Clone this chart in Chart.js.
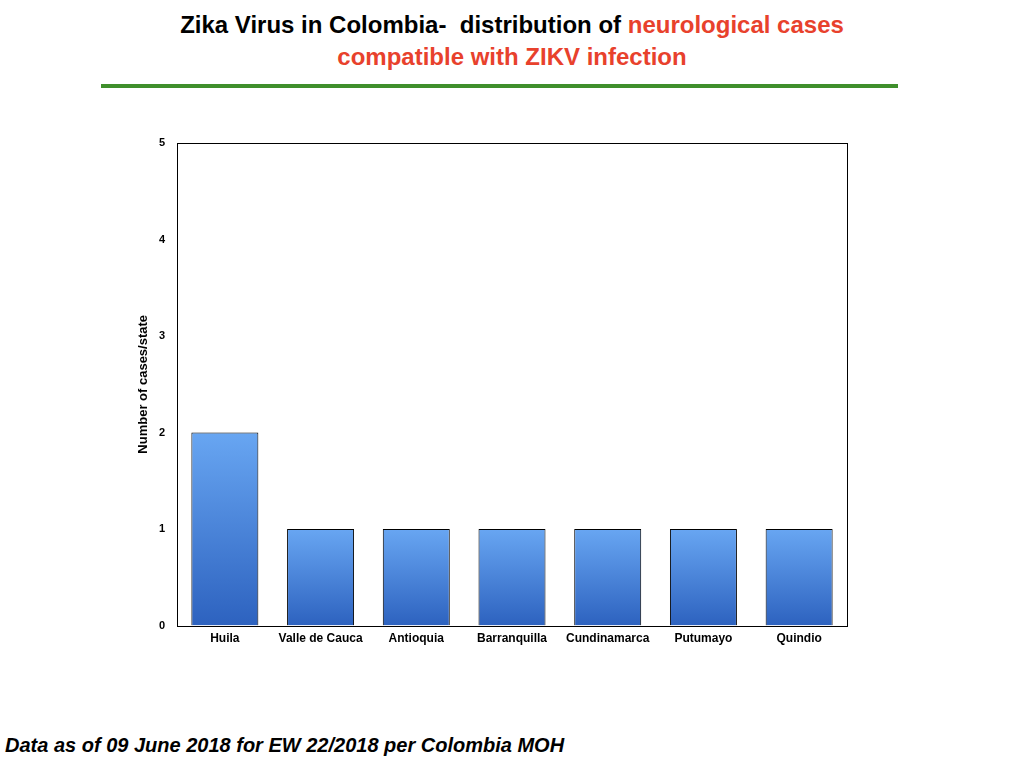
<!DOCTYPE html>
<html>
<head>
<meta charset="utf-8">
<script src="https://cdn.jsdelivr.net/npm/chart.js@4"></script>
<style>
  body { margin: 0; width: 1024px; height: 768px; background: #fff; font-family: "Liberation Sans", Arial, sans-serif; position: relative; overflow: hidden; }
  .title { position: absolute; left: 0; width: 1024px; top: 9px; text-align: center; font-weight: bold; font-size: 24px; line-height: 32px; color: #000; }
  .title .red { color: #e8412c; }
  .rule { position: absolute; left: 101px; top: 84px; width: 797px; height: 4px; background: #3f8f2c; }
  .footer { position: absolute; left: 5px; top: 734px; font-weight: bold; font-style: italic; font-size: 20px; color: #000; }
  #wrap { position: absolute; left: 120px; top: 120px; width: 760px; height: 532px; }
</style>
</head>
<body>
<div class="title">Zika Virus in Colombia-&nbsp; distribution of <span class="red">neurological cases</span><br><span class="red">compatible with ZIKV infection</span></div>
<div class="rule"></div>
<div id="wrap"><canvas id="chart"></canvas></div>
<div class="footer">Data as of 09 June 2018 for EW 22/2018 per Colombia MOH</div>
<script>
const states = ['Huila', 'Valle de Cauca', 'Antioquia', 'Barranquilla', 'Cundinamarca', 'Putumayo', 'Quindio'];
const cases = [2, 1, 1, 1, 1, 1, 1];
const yTicks = [0, 1, 2, 3, 4, 5];

// box around the plot area
const frame = {
  id: 'frame',
  afterDatasetsDraw(chart) {
    const { ctx, chartArea: a } = chart;
    ctx.save();
    ctx.strokeStyle = '#000';
    ctx.lineWidth = 1;
    ctx.strokeRect(Math.round(a.left) + 0.5, Math.round(a.top) + 0.5, Math.round(a.width), Math.round(a.height));
    ctx.restore();
  }
};

const ctx = document.getElementById('chart').getContext('2d');
new Chart(ctx, {
  type: 'bar',
  data: {
    labels: states,
    datasets: [{
      data: cases,
      backgroundColor: (c) => {
        const chart = c.chart;
        if (!chart.chartArea || c.parsed === undefined) return '#4a86e0';
        const y = chart.scales.y;
        const g = chart.ctx.createLinearGradient(0, y.getPixelForValue(c.parsed.y), 0, y.getPixelForValue(0));
        g.addColorStop(0, '#68a6f2');
        g.addColorStop(1, '#2d62bf');
        return g;
      },
      borderColor: '#000',
      borderWidth: 1,
      barPercentage: 0.7,
      categoryPercentage: 1
    }]
  },
  options: {
    responsive: true,
    maintainAspectRatio: false,
    animation: false,
    layout: { padding: { top: 23, right: 33, left: 16 } },
    plugins: { legend: { display: false }, tooltip: { enabled: false } },
    scales: {
      x: {
        grid: { display: false, drawTicks: false },
        border: { display: false },
        ticks: { color: '#000', font: { family: 'Liberation Sans', size: 12, weight: 'bold' }, padding: 6, maxRotation: 0 }
      },
      y: {
        min: 0,
        max: 5,
        afterBuildTicks: (s) => { s.ticks = yTicks.map(v => ({ value: v })); },
        afterFit: (s) => { s.width = 41; },
        grid: { display: false, drawTicks: false },
        border: { display: false },
        ticks: { color: '#000', font: { family: 'Liberation Sans', size: 11, weight: 'bold' }, padding: 12 },
        title: { display: true, text: 'Number of cases/state', color: '#000', font: { family: 'Liberation Sans', size: 13, weight: 'bold' }, padding: 0 }
      }
    }
  },
  plugins: [frame]
});
</script>
</body>
</html>
